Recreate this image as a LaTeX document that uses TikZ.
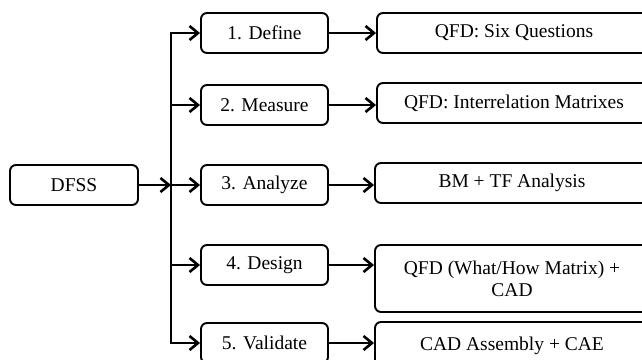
\documentclass[tikz,border=0pt]{standalone}
\usepackage{fontspec}
\setmainfont{Liberation Serif}
\usetikzlibrary{arrows.meta}
\begin{document}
\begin{tikzpicture}[x=1pt,y=-1pt,
  box/.style={draw, line width=1.9pt, rounded corners=6pt, inner sep=0pt,
    font=\fontsize{19.5}{22}\selectfont, align=center},
  stagebox/.style={box, minimum width=127pt, minimum height=40pt},
  resbox/.style={box, minimum width=274pt, minimum height=40pt},
  conn/.style={line width=2.8pt, -{Straight Barb[length=8.5pt,width=14pt,line width=2.6pt]}},
  trunkline/.style={line width=2.8pt},
]
\useasboundingbox (0,0) rectangle (642,359);
\clip (0,0) rectangle (642,359);

\node[box, minimum width=128pt, minimum height=40pt] (dfss) at (74,185) {DFSS};

\node[stagebox] (s1) at (264.5,33) {1. Define};
\node[stagebox] (s2) at (264.5,105) {2. Measure};
\node[stagebox] (s3) at (264.5,185) {3. Analyze};
\node[stagebox] (s4) at (264.5,265) {4. Design};
\node[stagebox] (s5) at (264.5,343) {5. Validate};

\node[resbox] (r1) at (514,33) {QFD: Six Questions};
\node[resbox] (r2) at (514,103) {QFD: Interrelation Matrixes};
\node[resbox] (r3) at (512,183) {BM + TF Analysis};
\node[resbox, minimum height=67pt] (r4) at (512,278.5) {QFD (What/How Matrix) +\\CAD};
\node[resbox, minimum height=48pt] (r5) at (512,346) {CAD Assembly + CAE};

\coordinate (tk) at (171,185);
\draw[trunkline] ([yshift=1.4pt]s1.west -| tk) -- ([yshift=-1.4pt]s5.west -| tk);

\draw[conn] (dfss.east) -- (tk);
\foreach \i in {1,...,5}{
  \draw[conn] (s\i.west -| tk) -- (s\i.west);
}
\draw[conn] (s1.east) -- (r1.west |- s1.east);
\draw[conn] (s2.east) -- (r2.west |- s2.east);
\draw[conn] (s3.east) -- (r3.west |- s3.east);
\draw[conn] (s4.east) -- (r4.west |- s4.east);
\draw[conn] (s5.east) -- (r5.west |- s5.east);
\end{tikzpicture}
\end{document}
